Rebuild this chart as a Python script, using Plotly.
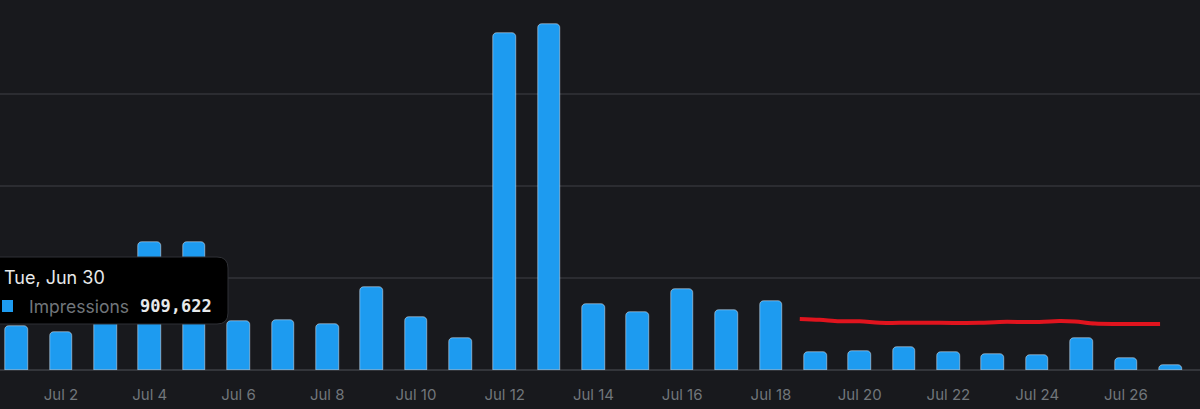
import plotly.graph_objects as go
import pandas as pd

# ---- data ----
dates = pd.date_range("2020-07-01", "2020-07-27", freq="D")
impressions = [955000, 826000, 1300000, 2780000, 2780000, 1065000, 1085000, 1000000,
               1800000, 1150000, 700000, 7330000, 7520000, 1430000, 1260000, 1760000,
               1300000, 1500000, 390000, 410000, 500000, 390000, 350000, 330000,
               700000, 260000, 110000]
tick_dates = pd.date_range("2020-07-02", "2020-07-26", freq="2D")
tick_labels = [f"Jul {d.day}" for d in tick_dates]

# hand-drawn red marker line (day of July, value)
red_days = [18.65, 19.1, 19.55, 20.0, 20.45, 20.9, 21.8, 22.7, 23.15, 24.05, 24.5,
            24.85, 25.3, 25.85, 26.77]
red_vals = [1110000, 1090000, 1060000, 1060000, 1025000, 1025000, 1025000, 1025000,
            1045000, 1045000, 1065000, 1055000, 1010000, 1000000, 1000000]

tooltip_date = "Tue, Jun 30"
tooltip_series = "Impressions"
tooltip_value = "909,622"

BG = "#18191d"
GRID = "#2b2c31"
BLUE = "#1d9bf0"

red_x = [pd.Timestamp("2020-06-30") + pd.Timedelta(days=d) for d in red_days]

fig = go.Figure()
fig.add_trace(go.Bar(x=dates, y=impressions, marker=dict(color=BLUE, cornerradius=4),
                     width=0.51 * 86400000, hoverinfo="skip"))
fig.add_trace(go.Scatter(x=red_x, y=red_vals, mode="lines",
                         line=dict(color="#e0141e", width=4, shape="spline"),
                         hoverinfo="skip"))

fig.update_layout(
    width=1200, height=409,
    margin=dict(l=0, r=0, t=2, b=39),
    paper_bgcolor=BG, plot_bgcolor=BG,
    showlegend=False,
    bargap=0,
    font=dict(family="Inter, Roboto, sans-serif"),
    xaxis=dict(
        type="date",
        range=["2020-06-30 15:01", "2020-07-27 16:05"],
        tickvals=list(tick_dates), ticktext=tick_labels,
        tickfont=dict(color="#71767b", size=15),
        showgrid=False, zeroline=False, showline=False, ticks="",
        ticklabelstandoff=14,
    ),
    yaxis=dict(
        range=[0, 8000000], dtick=2000000,
        showticklabels=False, gridcolor=GRID, gridwidth=1.5,
        zeroline=True, zerolinecolor="#33353a", zerolinewidth=2,
    ),
)

# tooltip overlay (pixel-based paper coords)
W, H = 1200, 368
def px(x):
    return x / W
def py(y):
    return (370 - y) / H

x0, x1, y0, y1, r = -12, 228, 257, 324, 11
path = (f"M {px(x0)},{py(y0)} L {px(x1 - r)},{py(y0)} Q {px(x1)},{py(y0)} {px(x1)},{py(y0 + r)} "
        f"L {px(x1)},{py(y1 - r)} Q {px(x1)},{py(y1)} {px(x1 - r)},{py(y1)} "
        f"L {px(x0)},{py(y1)} Z")
fig.add_shape(type="path", path=path, xref="paper", yref="paper",
              fillcolor="#000000", line=dict(color="#2f3136", width=1), layer="above")
fig.add_shape(type="rect", xref="paper", yref="paper",
              x0=px(2), x1=px(13), y0=py(312), y1=py(300),
              fillcolor=BLUE, line=dict(width=0), layer="above")
fig.add_annotation(x=px(2), y=py(277), xref="paper", yref="paper", text=tooltip_date,
                   showarrow=False, xanchor="left", yanchor="middle",
                   font=dict(color="#e7e9ea", size=18, family="Inter, sans-serif"))
fig.add_annotation(x=px(27), y=py(306), xref="paper", yref="paper", text=tooltip_series,
                   showarrow=False, xanchor="left", yanchor="middle",
                   font=dict(color="#71767b", size=17.5, family="Inter, sans-serif"))
fig.add_annotation(x=px(214), y=py(306), xref="paper", yref="paper", text=f"<b>{tooltip_value}</b>",
                   showarrow=False, xanchor="right", yanchor="middle",
                   font=dict(color="#e7e9ea", size=17, family="DejaVu Sans Mono, monospace"))

fig.write_html("out.html")
